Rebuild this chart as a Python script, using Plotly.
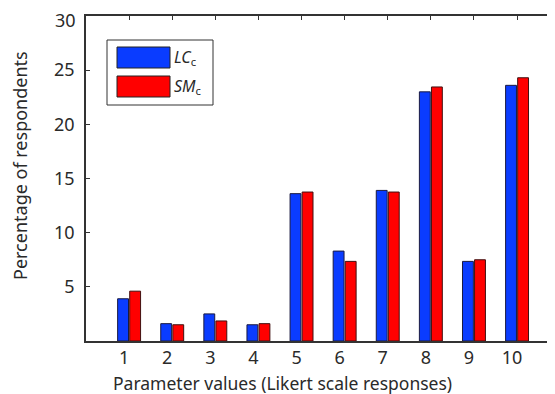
import plotly.graph_objects as go

categories = [1, 2, 3, 4, 5, 6, 7, 8, 9, 10]
lc_values = [3.9, 1.6, 2.5, 1.5, 13.6, 8.3, 13.9, 23.0, 7.35, 23.6]
sm_values = [4.6, 1.5, 1.85, 1.6, 13.75, 7.35, 13.75, 23.45, 7.5, 24.3]
y_ticks = [5, 10, 15, 20, 25, 30]

BLUE = "#0a3cff"
RED = "#ff0000"
FONT = "Noto Sans"
TXT = "#2a2a2a"

OFF = 8  # default page body margin
W, H = 555 - OFF, 394 - OFF
# plot area in page pixels
PL, PR, PT, PB = 86, 555, 16, 341
L, R, T, B = PL - OFF, PR - OFF, PT - OFF, PB - OFF

fig = go.Figure()
fig.add_trace(go.Bar(x=categories, y=lc_values, name="LCc",
                     marker=dict(color=BLUE, line=dict(color="#1a1a40", width=1))))
fig.add_trace(go.Bar(x=categories, y=sm_values, name="SMc",
                     marker=dict(color=RED, line=dict(color="#401010", width=1))))
# invisible trace to carry the top axis
fig.add_trace(go.Scatter(x=[categories[0]], y=[0], xaxis="x2", mode="markers",
                         marker=dict(opacity=0), showlegend=False, hoverinfo="skip"))

fig.update_layout(
    width=W, height=H,
    margin=dict(l=L, r=W - R, t=T, b=H - B),
    paper_bgcolor="white", plot_bgcolor="white",
    barmode="group", bargap=0.44, bargroupgap=0.1,
    showlegend=False,
    font=dict(family=FONT, color=TXT, size=16),
    xaxis=dict(range=[0, 10.88], tickvals=categories, ticktext=[str(c) for c in categories],
               showline=True, linecolor="#333333", linewidth=1.5, ticks="",
               showgrid=False, zeroline=False, tickfont=dict(size=18), automargin=False,
               ticklabelshift=-5, ticklabeloverflow="allow"),
    xaxis2=dict(range=[0, 10.88], overlaying="x", side="top", tickvals=categories,
                showticklabels=False, showline=True, linecolor="#333333", linewidth=1.5,
                ticks="inside", ticklen=4, tickcolor="#333333", showgrid=False, zeroline=False,
                automargin=False),
    yaxis=dict(range=[0, 30], tickvals=y_ticks,
               ticktext=[str(v) if v != y_ticks[-1] else "" for v in y_ticks],
               showline=True, linecolor="#333333", linewidth=1.5,
               ticks="inside", ticklen=4, tickcolor="#333333", showgrid=False, zeroline=False,
               tickfont=dict(size=18), ticklabelstandoff=6, automargin=False,
               ticklabeloverflow="allow"),
)

# top tick label, nudged down so it stays inside the page as in the reference
fig.add_annotation(xref="paper", yref="y", x=0, y=y_ticks[-1], text=str(y_ticks[-1]),
                   showarrow=False, xanchor="right", yanchor="middle", xshift=-8, yshift=-4,
                   font=dict(size=18, color=TXT))

def px_x(p):
    return (p - PL) / (PR - PL)

def px_y(p):
    return 1 - (p - PT) / (PB - PT)

# axis titles
fig.add_annotation(xref="paper", yref="paper", x=px_x(282), y=px_y(383),
                   text="Parameter values (Likert scale responses)", showarrow=False,
                   xanchor="center", yanchor="middle", font=dict(size=17.5, color=TXT))
fig.add_annotation(xref="paper", yref="paper", x=px_x(20), y=px_y(166),
                   text="Percentage of respondents", showarrow=False, textangle=-90,
                   xanchor="center", yanchor="middle", font=dict(size=18, color=TXT))

# manual legend (paper coordinates)
fig.add_shape(type="rect", xref="paper", yref="paper",
              x0=px_x(107), x1=px_x(213), y0=px_y(105), y1=px_y(40),
              line=dict(color="#333333", width=1), fillcolor="white")
legend_items = [("<i>LC</i><sub>c</sub>", BLUE, 47, 68), ("<i>SM</i><sub>c</sub>", RED, 76, 97)]
for label, color, top, bottom in legend_items:
    fig.add_shape(type="rect", xref="paper", yref="paper",
                  x0=px_x(117), x1=px_x(170), y0=px_y(bottom), y1=px_y(top),
                  line=dict(color="#222222", width=1), fillcolor=color)
    fig.add_annotation(xref="paper", yref="paper", x=px_x(172), y=px_y((top + bottom) / 2),
                       text=label, showarrow=False, xanchor="left", yanchor="middle",
                       font=dict(size=16, family=FONT, color=TXT))

fig.write_html("out.html")
